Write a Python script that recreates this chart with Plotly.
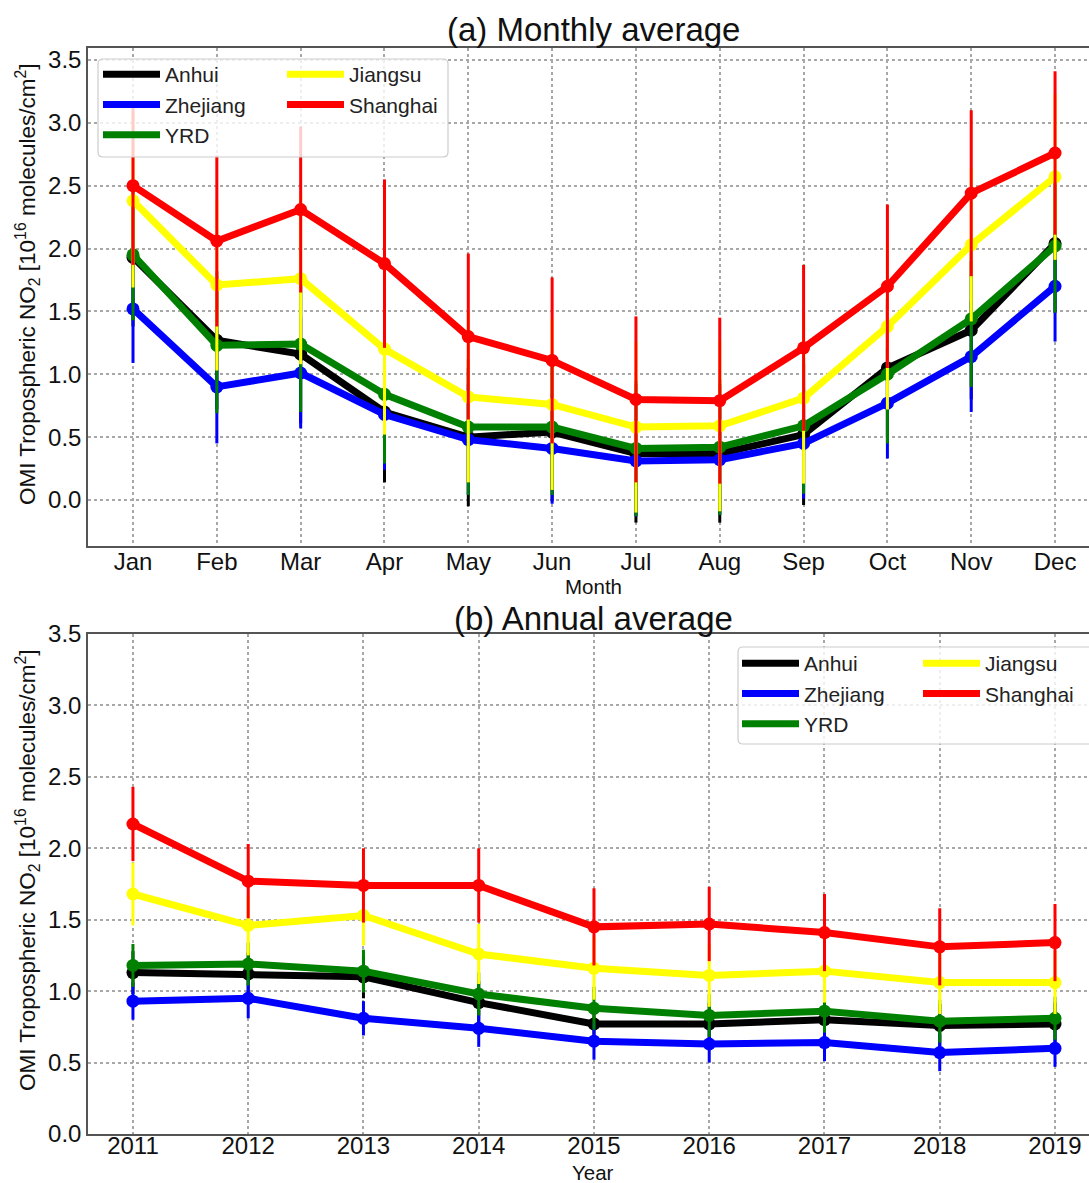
import plotly.graph_objects as go

# ---------------- data ----------------
months = ["Jan", "Feb", "Mar", "Apr", "May", "Jun", "Jul", "Aug", "Sep", "Oct", "Nov", "Dec"]
years = [2011, 2012, 2013, 2014, 2015, 2016, 2017, 2018, 2019]
regions = ["Anhui", "Zhejiang", "YRD", "Jiangsu", "Shanghai"]
colors = {"Anhui": "black", "Zhejiang": "blue", "YRD": "green", "Jiangsu": "yellow", "Shanghai": "red"}

# monthly mean tropospheric NO2 (1e16 molecules/cm2) and spread
anhui_month = [1.93, 1.27, 1.16, 0.70, 0.50, 0.54, 0.37, 0.37, 0.52, 1.05, 1.35, 2.04]
zhejiang_month = [1.52, 0.90, 1.01, 0.68, 0.48, 0.41, 0.31, 0.32, 0.45, 0.77, 1.14, 1.70]
yrd_month = [1.95, 1.23, 1.24, 0.84, 0.58, 0.58, 0.41, 0.42, 0.59, 1.00, 1.44, 2.02]
jiangsu_month = [2.38, 1.71, 1.76, 1.20, 0.82, 0.76, 0.58, 0.59, 0.81, 1.38, 2.03, 2.57]
shanghai_month = [2.50, 2.06, 2.31, 1.88, 1.30, 1.11, 0.80, 0.79, 1.21, 1.70, 2.44, 2.76]

anhui_month_err = [0.55, 0.55, 0.55, 0.56, 0.55, 0.55, 0.55, 0.55, 0.56, 0.55, 0.55, 0.55]
zhejiang_month_err = [0.43, 0.45, 0.44, 0.44, 0.44, 0.44, 0.44, 0.44, 0.44, 0.44, 0.44, 0.44]
yrd_month_err = [0.52, 0.54, 0.54, 0.55, 0.54, 0.54, 0.54, 0.54, 0.54, 0.55, 0.54, 0.53]
jiangsu_month_err = [0.69, 0.68, 0.68, 0.68, 0.68, 0.68, 0.68, 0.68, 0.68, 0.66, 0.61, 0.66]
shanghai_month_err = [0.63, 0.68, 0.66, 0.67, 0.66, 0.66, 0.66, 0.66, 0.66, 0.65, 0.66, 0.65]

# annual mean tropospheric NO2 and spread
anhui_year = [1.13, 1.12, 1.10, 0.92, 0.77, 0.77, 0.80, 0.76, 0.77]
zhejiang_year = [0.93, 0.95, 0.81, 0.74, 0.65, 0.63, 0.64, 0.57, 0.60]
yrd_year = [1.18, 1.19, 1.14, 0.98, 0.88, 0.83, 0.86, 0.79, 0.81]
jiangsu_year = [1.68, 1.46, 1.53, 1.26, 1.16, 1.11, 1.14, 1.06, 1.06]
shanghai_year = [2.17, 1.77, 1.74, 1.74, 1.45, 1.47, 1.41, 1.31, 1.34]

anhui_year_err = [0.15, 0.15, 0.15, 0.15, 0.15, 0.15, 0.15, 0.15, 0.15]
zhejiang_year_err = [0.13, 0.14, 0.12, 0.13, 0.13, 0.13, 0.13, 0.13, 0.13]
yrd_year_err = [0.15, 0.15, 0.15, 0.15, 0.15, 0.15, 0.15, 0.15, 0.15]
jiangsu_year_err = [0.22, 0.21, 0.21, 0.21, 0.22, 0.22, 0.22, 0.22, 0.22]
shanghai_year_err = [0.26, 0.26, 0.26, 0.26, 0.27, 0.26, 0.27, 0.27, 0.27]

monthly = {
    "Anhui": (anhui_month, anhui_month_err),
    "Zhejiang": (zhejiang_month, zhejiang_month_err),
    "YRD": (yrd_month, yrd_month_err),
    "Jiangsu": (jiangsu_month, jiangsu_month_err),
    "Shanghai": (shanghai_month, shanghai_month_err),
}
annual = {
    "Anhui": (anhui_year, anhui_year_err),
    "Zhejiang": (zhejiang_year, zhejiang_year_err),
    "YRD": (yrd_year, yrd_year_err),
    "Jiangsu": (jiangsu_year, jiangsu_year_err),
    "Shanghai": (shanghai_year, shanghai_year_err),
}

# ---------------- figure geometry (pixels) ----------------
W, H = 1089, 1183
FONT = "Liberation Sans, Arial, sans-serif"


def px_x(p):
    return p / W


def px_y(p):
    return 1 - p / H


fig = go.Figure()

LINE_W = 7
MARK = 13
ERR_W = 3

for name in regions:
    vals, err = monthly[name]
    fig.add_trace(go.Scatter(
        x=months, y=vals, mode="lines+markers", name=name,
        line=dict(color=colors[name], width=LINE_W),
        marker=dict(color=colors[name], size=MARK),
        error_y=dict(type="data", array=err, visible=True, color=colors[name],
                     thickness=ERR_W, width=0),
        xaxis="x", yaxis="y", showlegend=False,
    ))
for name in regions:
    vals, err = annual[name]
    fig.add_trace(go.Scatter(
        x=years, y=vals, mode="lines+markers", name=name,
        line=dict(color=colors[name], width=LINE_W),
        marker=dict(color=colors[name], size=MARK),
        error_y=dict(type="data", array=err, visible=True, color=colors[name],
                     thickness=ERR_W, width=0),
        xaxis="x2", yaxis="y2", showlegend=False,
    ))

# legend entries: two columns per panel (Anhui/Zhejiang/YRD, Jiangsu/Shanghai)
legend_cols = {
    "legend": ["Anhui", "Zhejiang", "YRD"],
    "legend2": ["Jiangsu", "Shanghai"],
    "legend3": ["Anhui", "Zhejiang", "YRD"],
    "legend4": ["Jiangsu", "Shanghai"],
}
for leg, names in legend_cols.items():
    for name in names:
        fig.add_trace(go.Scatter(
            x=[None], y=[None], mode="lines", name=name,
            line=dict(color=colors[name], width=LINE_W),
            legend=leg, showlegend=True, xaxis="x", yaxis="y",
        ))

leg_common = dict(
    bgcolor="rgba(0,0,0,0)", borderwidth=0, orientation="v",
    xanchor="left", yanchor="top", itemwidth=57,
    font=dict(family=FONT, size=21, color="#222"), tracegroupgap=0,
)

# panel geometry
TOP_T, TOP_B = 48, 546
BOT_T, BOT_B = 634, 1134
LEFT = 88

axis_common = dict(
    showline=True, linecolor="#555", linewidth=1.5,
    showgrid=True, gridcolor="#a8a8a8", griddash="dot", gridwidth=1.5,
    ticks="", zeroline=False, automargin=False,
    tickfont=dict(family=FONT, size=24, color="#111"),
)

fig.update_layout(
    width=W, height=H,
    margin=dict(l=0, r=0, t=0, b=0, autoexpand=False),
    paper_bgcolor="white", plot_bgcolor="white",
    font=dict(family=FONT),
    xaxis=dict(domain=[px_x(LEFT), 1], anchor="y", range=[-0.537, 11.405],
               type="category", mirror=True, ticklabelstandoff=-7, **axis_common),
    yaxis=dict(domain=[px_y(TOP_B), px_y(TOP_T)], anchor="x", range=[-0.366, 3.595],
               tickvals=[0, 0.5, 1, 1.5, 2, 2.5, 3, 3.5], tickformat=".1f", **axis_common),
    xaxis2=dict(domain=[px_x(LEFT), 1], anchor="y2", range=[2010.61, 2019.295],
                tickvals=years, mirror=True, ticklabelstandoff=-11, **axis_common),
    yaxis2=dict(domain=[px_y(BOT_B), px_y(BOT_T)], anchor="x2", range=[0, 3.5],
                tickvals=[0, 0.5, 1, 1.5, 2, 2.5, 3, 3.5], tickformat=".1f", **axis_common),
    legend=dict(x=px_x(98), y=px_y(54), **leg_common),
    legend2=dict(x=px_x(282), y=px_y(54), **leg_common),
    legend3=dict(x=px_x(737), y=px_y(643), **leg_common),
    legend4=dict(x=px_x(918), y=px_y(643), **leg_common),
)


def rounded_box(x0, y0, x1, y1, r=5):
    # rounded rectangle path in paper coordinates from pixel corners
    def P(x, y):
        return f"{px_x(x):.5f},{px_y(y):.5f}"
    return (f"M {P(x0 + r, y0)} L {P(x1 - r, y0)} Q {P(x1, y0)} {P(x1, y0 + r)} "
            f"L {P(x1, y1 - r)} Q {P(x1, y1)} {P(x1 - r, y1)} "
            f"L {P(x0 + r, y1)} Q {P(x0, y1)} {P(x0, y1 - r)} "
            f"L {P(x0, y0 + r)} Q {P(x0, y0)} {P(x0 + r, y0)} Z")


for box in [(98, 59, 448, 157), (738, 647, 1095, 744)]:
    fig.add_shape(type="path", path=rounded_box(*box), xref="paper", yref="paper",
                  line=dict(color="#cccccc", width=1.2),
                  fillcolor="rgba(255,255,255,0.8)", layer="above")

ylabel = "OMI Tropospheric NO<sub>2</sub> [10<sup>16</sup> molecules/cm<sup>2</sup>]"
annotations = [
    dict(text="(a) Monthly average", x=px_x(593), y=px_y(30), font=dict(size=33)),
    dict(text="(b) Annual average", x=px_x(593), y=px_y(618), font=dict(size=33)),
    dict(text="Month", x=px_x(593), y=px_y(586), font=dict(size=20.5)),
    dict(text="Year", x=px_x(593), y=px_y(1172), font=dict(size=20.5)),
    dict(text=ylabel, x=px_x(27), y=px_y(285), textangle=-90, font=dict(size=22.5)),
    dict(text=ylabel, x=px_x(27), y=px_y(871), textangle=-90, font=dict(size=22.5)),
]
for a in annotations:
    a["font"].update(family=FONT, color="#111")
    fig.add_annotation(xref="paper", yref="paper", showarrow=False,
                       xanchor="center", yanchor="middle", **a)

fig.write_html("out.html")
